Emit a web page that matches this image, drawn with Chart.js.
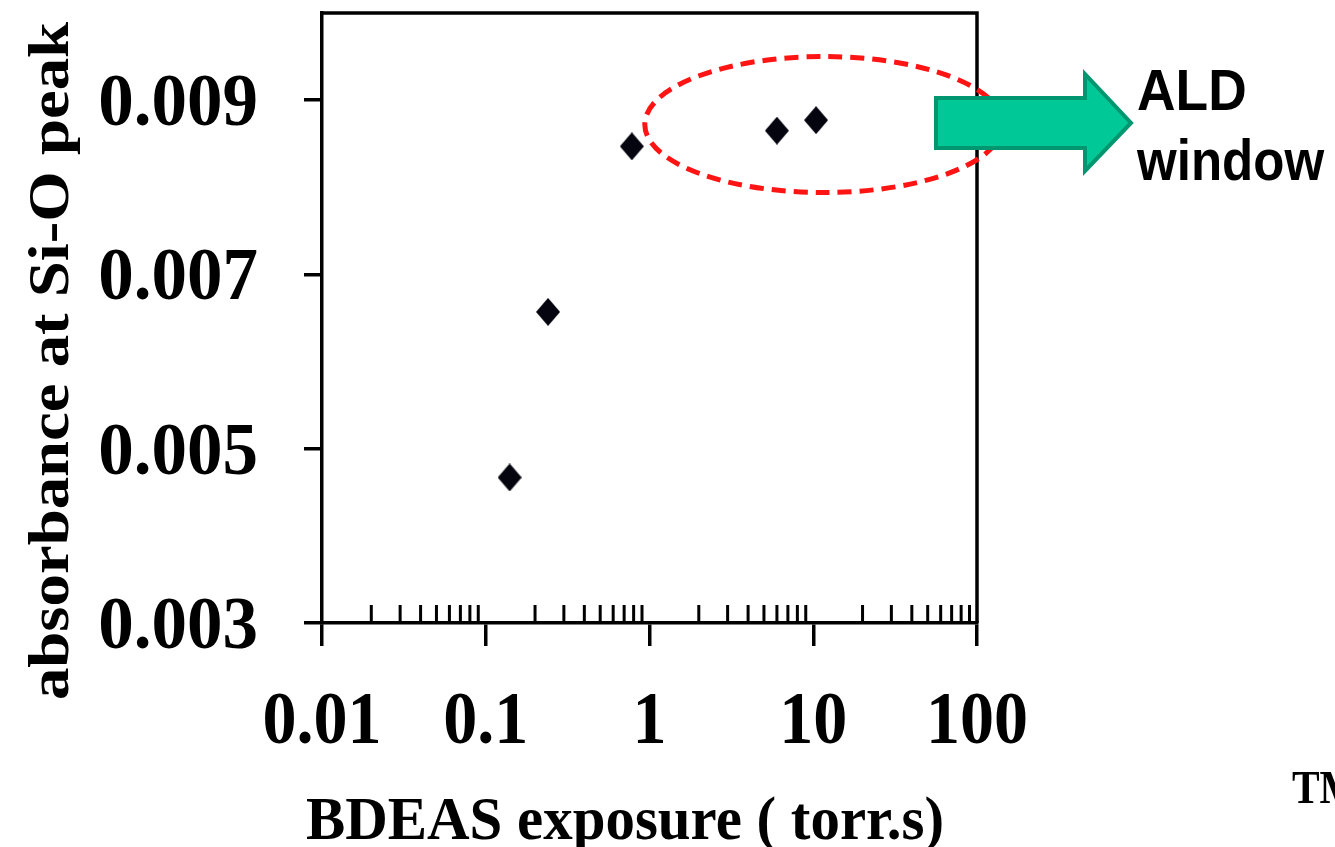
<!DOCTYPE html>
<html>
<head>
<meta charset="utf-8">
<title>BDEAS exposure</title>
<script src="https://cdn.jsdelivr.net/npm/chart.js@4.4.1/dist/chart.umd.min.js"></script>
<style>
  html, body { margin: 0; padding: 0; background: #ffffff; overflow: hidden; }
  #chart { display: block; }
</style>
</head>
<body>
<canvas id="chart" width="1335" height="847"></canvas>
<script>
// data
const exposure = [0.14, 0.24, 0.78, 6.0, 10.4];
const absorbance = [0.00467, 0.00657, 0.00847, 0.00865, 0.00877];

const xMajorTicks = [0.01, 0.1, 1, 10, 100];
const xTickLabels = ['0.01', '0.1', '1', '10', '100'];
const yTicks = [0.003, 0.005, 0.007, 0.009];
const yTickLabels = ['0.003', '0.005', '0.007', '0.009'];

const xTitle = 'BDEAS exposure ( torr.s)';
const yTitle = 'absorbance at Si-O peak';
const windowLabel = ['ALD', 'window'];

const SERIF = '"Liberation Serif", "Times New Roman", serif';

// diamond marker, a little taller than wide like the original
function makeDiamond(w, h) {
  const c = document.createElement('canvas');
  c.width = w; c.height = h;
  const g = c.getContext('2d');
  g.fillStyle = '#05050f';
  g.beginPath();
  g.moveTo(w / 2, 0);
  g.lineTo(w, h / 2);
  g.lineTo(w / 2, h);
  g.lineTo(0, h / 2);
  g.closePath();
  g.fill();
  return c;
}

// text squeezed horizontally (the source figure is a bit condensed)
function squeezedText(ctx, text, x, y, sx, align) {
  const w = ctx.measureText(text).width * sx;
  let left = x;
  if (align === 'center') left = x - w / 2;
  if (align === 'right') left = x - w;
  ctx.save();
  ctx.translate(left, y);
  ctx.scale(sx, 1);
  ctx.textAlign = 'left';
  ctx.fillText(text, 0, 0);
  ctx.restore();
}

const decorPlugin = {
  id: 'decor',
  afterDraw(chart) {
    const ctx = chart.ctx;
    const area = chart.chartArea;
    const xs = chart.scales.x;
    const ys = chart.scales.y;

    ctx.save();
    ctx.strokeStyle = '#000';
    ctx.lineWidth = 3.5;

    // top and right sides of the box
    ctx.beginPath();
    ctx.moveTo(area.left, area.top);
    ctx.lineTo(area.right, area.top);
    ctx.lineTo(area.right, area.bottom);
    ctx.stroke();

    // minor log ticks pointing up into the plot
    ctx.lineWidth = 3;
    ctx.beginPath();
    for (let d = 0; d < xMajorTicks.length - 1; d++) {
      for (let m = 2; m <= 9; m++) {
        const px = xs.getPixelForValue(xMajorTicks[d] * m);
        ctx.moveTo(px, area.bottom);
        ctx.lineTo(px, area.bottom - 18);
      }
    }
    ctx.stroke();

    // tick labels
    ctx.fillStyle = '#000';
    ctx.textBaseline = 'alphabetic';
    ctx.font = 'bold 74px ' + SERIF;
    yTicks.forEach((v, i) => {
      squeezedText(ctx, yTickLabels[i], 258, ys.getPixelForValue(v) + 25, 0.96, 'right');
    });
    xMajorTicks.forEach((v, i) => {
      squeezedText(ctx, xTickLabels[i], xs.getPixelForValue(v), 743, 0.92, 'center');
    });

    // axis titles
    ctx.font = 'bold 62px ' + SERIF;
    squeezedText(ctx, xTitle, 625, 839, 0.95, 'center');

    ctx.font = 'bold 64px ' + SERIF;
    const tw = ctx.measureText(yTitle).width;
    ctx.save();
    ctx.translate(68, 361);
    ctx.rotate(-Math.PI / 2);
    ctx.scale(678 / tw, 0.9);
    ctx.textAlign = 'center';
    ctx.fillText(yTitle, 0, 0);
    ctx.restore();

    // dashed ellipse round the saturated points
    const cx = xs.getPixelForValue(11.6);
    const cy = ys.getPixelForValue(0.00872);
    ctx.strokeStyle = '#ff1414';
    ctx.lineWidth = 5;
    ctx.setLineDash([14, 8]);
    ctx.beginPath();
    ctx.ellipse(cx, cy, 179, 68, 0, 0, Math.PI * 2);
    ctx.stroke();
    ctx.setLineDash([]);

    // green block arrow
    ctx.fillStyle = '#00c896';
    ctx.strokeStyle = '#009670';
    ctx.lineWidth = 4;
    ctx.lineJoin = 'miter';
    ctx.beginPath();
    ctx.moveTo(936, 98);
    ctx.lineTo(1085, 98);
    ctx.lineTo(1085, 74);
    ctx.lineTo(1131, 123);
    ctx.lineTo(1085, 171);
    ctx.lineTo(1085, 148);
    ctx.lineTo(936, 148);
    ctx.closePath();
    ctx.fill();
    ctx.stroke();

    // ALD window label
    ctx.fillStyle = '#000';
    ctx.font = 'bold 58px "Liberation Sans", Arial, sans-serif';
    squeezedText(ctx, windowLabel[0], 1137, 110, 0.92, 'left');
    squeezedText(ctx, windowLabel[1], 1137, 180, 0.88, 'left');

    // cut-off text at the bottom right of the slide
    ctx.font = 'bold 46px ' + SERIF;
    squeezedText(ctx, 'TM', 1292, 803, 0.9, 'left');

    ctx.restore();
  }
};

const chart = new Chart(document.getElementById('chart'), {
  type: 'scatter',
  data: {
    datasets: [{
      data: exposure.map((x, i) => ({ x: x, y: absorbance[i] })),
      pointStyle: makeDiamond(24, 28),
      pointRadius: 12,
      pointHoverRadius: 12
    }]
  },
  options: {
    responsive: false,
    devicePixelRatio: 1,
    animation: false,
    events: [],
    layout: { padding: { left: 304, right: 358, top: 10, bottom: 201 } },
    plugins: {
      legend: { display: false },
      tooltip: { enabled: false }
    },
    scales: {
      x: {
        type: 'logarithmic',
        min: 0.01,
        max: 100,
        afterBuildTicks(axis) { axis.ticks = xMajorTicks.map(v => ({ value: v })); },
        afterFit(axis) { axis.height = 23; },
        ticks: { display: false },
        title: { display: false },
        grid: { drawOnChartArea: false, drawTicks: true, tickLength: 23, color: '#000', lineWidth: 3.5 },
        border: { display: true, color: '#000', width: 3.5 }
      },
      y: {
        type: 'linear',
        min: 0.003,
        max: 0.010,
        afterBuildTicks(axis) { axis.ticks = yTicks.map(v => ({ value: v })); },
        afterFit(axis) { axis.width = 18; },
        ticks: { display: false },
        title: { display: false },
        grid: { drawOnChartArea: false, drawTicks: true, tickLength: 18, color: '#000', lineWidth: 3.5 },
        border: { display: true, color: '#000', width: 3.5 }
      }
    }
  },
  plugins: [decorPlugin]
});
</script>
</body>
</html>
